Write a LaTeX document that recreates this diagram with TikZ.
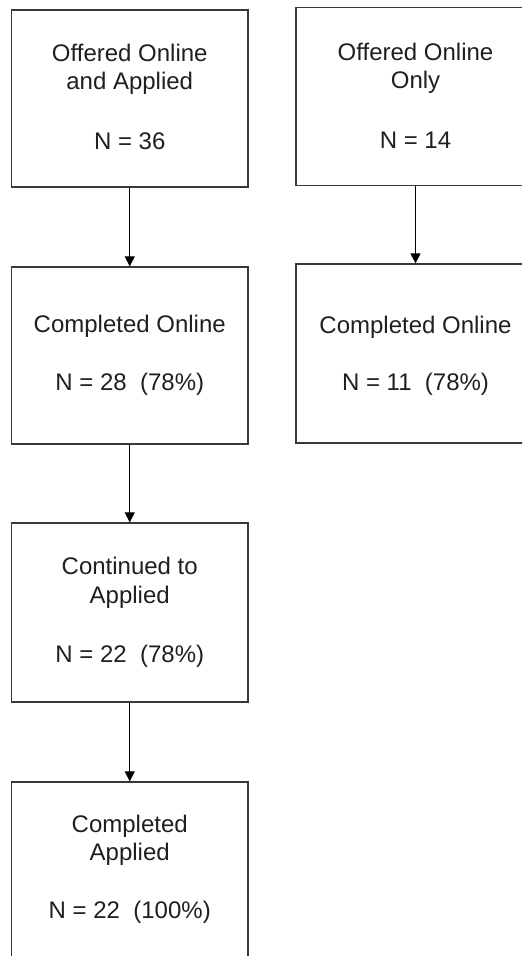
\documentclass[tikz,border=0pt]{standalone}
\usepackage{fontspec}
\setmainfont{Liberation Sans}
\usetikzlibrary{arrows.meta}
\begin{document}
\begin{tikzpicture}[x=1pt,y=-1pt,
  box/.style={draw=black!78, line width=1.3pt, minimum width=236.5pt, minimum height=177pt, inner sep=0pt},
  txt/.style={anchor=base, inner sep=0pt, font=\fontsize{24}{28}\selectfont, text=black!88},
  arr/.style={line width=1.1pt, -{Triangle[width=10pt,length=10pt]}}]
\useasboundingbox (0,0) rectangle (522,956);
\clip (0,0) rectangle (522,956);
% boxes
\node[box] (b1) at (129.75,98.5) {};
\node[box] (b2) at (129.75,355.5) {};
\node[box, minimum height=179pt] (b3) at (129.75,612.5) {};
\node[box, minimum height=178pt] (b4) at (129.75,871) {};
\node[box, minimum width=239pt, minimum height=178.5pt] (r1) at (415.5,96.5) {};
\node[box, minimum width=239pt, minimum height=179pt] (r2) at (415.5,353.5) {};
% texts
\node[txt] (t1a) at (129.75,61) {Offered Online};
\node[txt] (t1b) at (129.75,89) {and Applied};
\node[txt] (t1c) at (129.75,149) {N = 36};
\node[txt] (t2a) at (129.75,332) {Completed Online};
\node[txt] (t2b) at (129.75,390) {N = 28\ \ (78\%)};
\node[txt] (t3a) at (129.75,574) {Continued to};
\node[txt] (t3b) at (129.75,603) {Applied};
\node[txt] (t3c) at (129.75,662) {N = 22\ \ (78\%)};
\node[txt] (t4a) at (129.75,832) {Completed};
\node[txt] (t4b) at (129.75,860) {Applied};
\node[txt] (t4c) at (129.75,918) {N = 22\ \ (100\%)};
\node[txt] (r1a) at (415.5,60) {Offered Online};
\node[txt] (r1b) at (415.5,88) {Only};
\node[txt] (r1c) at (415.5,148) {N = 14};
\node[txt] (r2a) at (415.5,333) {Completed Online};
\node[txt] (r2b) at (415.5,390) {N = 11\ \ (78\%)};
% arrows
\draw[arr] (b1.south) -- (b2.north);
\draw[arr] (b2.south) -- (b3.north);
\draw[arr] (b3.south) -- (b4.north);
\draw[arr] (r1.south) -- (r2.north);
\end{tikzpicture}
\end{document}
